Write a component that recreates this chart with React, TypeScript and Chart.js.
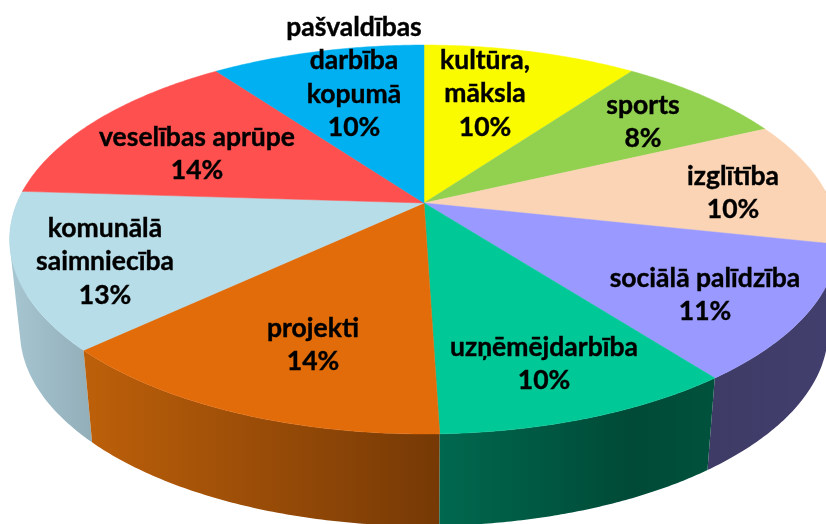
import React, { useEffect, useRef } from "react";
import { Chart, registerables } from "chart.js";

Chart.register(...registerables);

// Data, in clockwise order from the top of the pie
const categories = [
  "kultūra, māksla",
  "sports",
  "izglītība",
  "sociālā palīdzība",
  "uzņēmējdarbība",
  "projekti",
  "komunālā saimniecība",
  "veselības aprūpe",
  "pašvaldības darbība kopumā",
];
// Shares in percent, as measured on the picture; the printed labels are these, rounded
const shares = [10, 8, 10.4, 11.2, 9.9, 13.5, 13, 14, 10];

const labelLines = [
  ["kultūra,", "māksla"],
  ["sports"],
  ["izglītība"],
  ["sociālā palīdzība"],
  ["uzņēmējdarbība"],
  ["projekti"],
  ["komunālā", "saimniecība"],
  ["veselības aprūpe"],
  ["pašvaldības", "darbība", "kopumā"],
];

// Styles and layout
const topColors = ["#fbfb00", "#92d050", "#fad4b5", "#9999ff", "#00c896", "#e26b0a", "#b7dde8", "#ff5050", "#00b0f0"];
const wallStops = [
  ["#8f8f00", "#8f8f00"],
  ["#5a8231", "#5a8231"],
  ["#a58d78", "#a58d78"],
  ["#3e3b66", "#423f6e"],
  ["#00684e", "#004a37", "#00523d"],
  ["#bd600a", "#763905"],
  ["#a6c6d1", "#92aeb9"],
  ["#a03232", "#a03232"],
  ["#006f98", "#006f98"],
];
const labelCenters: [number, number][] = [
  [485, 60], [643, 105], [733, 176], [705, 278], [544, 347], [313, 328], [105, 228], [197, 137], [354, 27],
];
const apex = { x: 424, y: 203 };
const plane = { rx: 407, ry: 187.6, tilt: 0.1877 };
const wall = { depth: 92, shrink: 0.975 };
const lineHeight = 33.6;
const font = 'bold 26.5px Lato, "Noto Sans", sans-serif';

type P = { x: number; y: number };
const project = (a: number): P => {
  const u = Math.cos(a), v = Math.sin(a);
  const w = 1 - plane.tilt * v;
  return { x: apex.x + (plane.rx * u) / w, y: apex.y + (plane.ry * v) / w };
};
const lower = (p: P): P => ({
  x: apex.x + (p.x - apex.x) * wall.shrink,
  y: p.y + wall.depth,
});
const sample = (s: number, e: number, n = 80) =>
  Array.from({ length: n + 1 }, (_, i) => s + ((e - s) * i) / n);
const signedArea = (q: P[]) =>
  q.reduce((sum, p, i) => {
    const r = q[(i + 1) % q.length];
    return sum + p.x * r.y - r.x * p.y;
  }, 0);

const projectedPie = {
  id: "projectedPie",
  beforeDatasetDraw(chart: any, args: any) {
    const ctx: CanvasRenderingContext2D = chart.ctx;
    const arcs = args.meta.data;
    // walls, back to front
    const order = arcs
      .map((_: any, i: number) => i)
      .sort((p: number, q: number) => {
        const m = (k: number) => Math.sin((arcs[k].startAngle + arcs[k].endAngle) / 2);
        return m(p) - m(q);
      });
    order.forEach((i: number) => {
      const arc = arcs[i];
      const angles = sample(arc.startAngle, arc.endAngle).filter((a) => Math.sin(a) > -0.08);
      if (angles.length < 2) return;
      const upper = angles.map(project);
      const below = upper.map(lower);
      const xs = [...upper, ...below].map((p) => p.x);
      const grad = ctx.createLinearGradient(Math.min(...xs), 0, Math.max(...xs), 0);
      // stops run left to right on screen
      const stops = wallStops[i];
      stops.forEach((c, k) => {
        const at = stops.length === 3 ? [0, 0.7, 1][k] : k / (stops.length - 1);
        grad.addColorStop(at, c);
      });
      // one equally oriented quad per step, so the silhouette stays filled where the rim turns back
      ctx.beginPath();
      for (let k = 0; k < upper.length - 1; k++) {
        let q = [upper[k], upper[k + 1], below[k + 1], below[k]];
        if (signedArea(q) < 0) q = q.reverse();
        q.forEach((p, n) => (n ? ctx.lineTo(p.x, p.y) : ctx.moveTo(p.x, p.y)));
        ctx.closePath();
      }
      ctx.fillStyle = grad;
      ctx.fill();
    });
    // top faces
    arcs.forEach((arc: any, i: number) => {
      ctx.beginPath();
      ctx.moveTo(apex.x, apex.y);
      sample(arc.startAngle, arc.endAngle).map(project).forEach((p) => ctx.lineTo(p.x, p.y));
      ctx.closePath();
      ctx.fillStyle = topColors[i];
      ctx.strokeStyle = topColors[i];
      ctx.lineWidth = 0.5;
      ctx.fill();
      ctx.stroke();
    });
    return false;
  },
  afterDatasetsDraw(chart: any) {
    const ctx: CanvasRenderingContext2D = chart.ctx;
    ctx.save();
    ctx.font = font;
    ctx.fillStyle = "#000000";
    ctx.strokeStyle = "#000000";
    ctx.lineWidth = 0.4;
    ctx.textAlign = "center";
    ctx.textBaseline = "middle";
    labelLines.forEach((lines, i) => {
      const [x, y] = labelCenters[i];
      [...lines, `${Math.round(shares[i])}%`].forEach((t, k) => {
        ctx.fillText(t, x, y + k * lineHeight);
        ctx.strokeText(t, x, y + k * lineHeight);
      });
    });
    ctx.restore();
  },
};

export default function App() {
  const ref = useRef<HTMLCanvasElement>(null);
  useEffect(() => {
    document.body.style.margin = "0";
    const chart = new Chart(ref.current!, {
      type: "pie",
      data: {
        labels: categories,
        datasets: [{ data: shares, backgroundColor: topColors, borderWidth: 0 }],
      },
      options: {
        animation: false,
        responsive: false,
        plugins: { legend: { display: false }, tooltip: { enabled: false } },
      },
      plugins: [projectedPie],
    } as any);
    return () => chart.destroy();
  }, []);
  return <canvas ref={ref} width={826} height={524} style={{ display: "block" }} />;
}
